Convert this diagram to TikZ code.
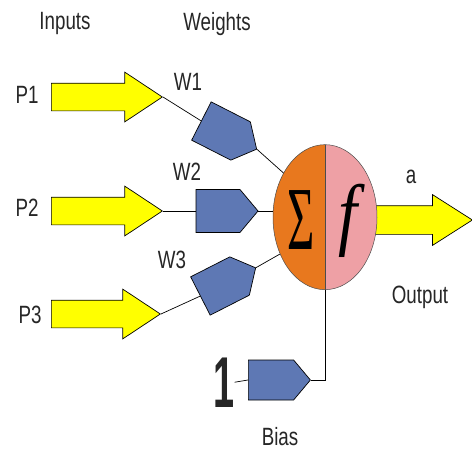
\documentclass[tikz,border=0pt]{standalone}
\usepackage{fontspec}
\setmainfont{Liberation Sans}
\newfontfamily\greekfont{Liberation Serif}
\usetikzlibrary{shapes.arrows,shapes.symbols,shapes.geometric}
\definecolor{arrowyellow}{RGB}{255,255,0}
\definecolor{weightblue}{RGB}{94,120,180}
\definecolor{sumorange}{RGB}{232,120,30}
\definecolor{funcpink}{RGB}{238,160,165}

\begin{document}
\begin{tikzpicture}[x=1pt, y=-1pt, line width=0.7pt,
    lbl/.style={font=\fontsize{25}{30}\selectfont, text=black!85, xscale=0.75, inner sep=0pt, anchor=base},
    inarrow/.style={single arrow, draw=black, fill=arrowyellow, minimum height=111pt, minimum width=49pt,
      single arrow head extend=11pt, single arrow tip angle=67, inner xsep=0pt, inner ysep=13.5pt, anchor=tail},
    weight/.style={signal, signal to=east, signal pointer angle=100, draw=black, fill=weightblue,
      minimum width=62pt, minimum height=43pt, inner sep=0pt}]
  \useasboundingbox (0,0) rectangle (472,450);

  % Titulos
  \node[lbl] (inputs) at (65,29) {Inputs};
  \node[lbl] (weights) at (217,30) {Weights};

  % Entradas
  \node[inarrow] (p1arrow) at (51,97) {};
  \node[inarrow] (p2arrow) at (51,211) {};
  \node[inarrow, minimum height=109pt] (p3arrow) at (51,314) {};
  \node[lbl] (p1) at (27,103) {P1};
  \node[lbl] (p2) at (27,216) {P2};
  \node[lbl] (p3) at (30,323) {P3};

  % Pesos
  \node[weight, rotate=-27] (w1) at (221,131) {};
  \node[weight] (w2) at (218,211) {};
  \node[weight, rotate=27] (w3) at (220,286) {};
  \node[lbl] (w1lbl) at (188,90) {W1};
  \node[lbl] (w2lbl) at (187,180) {W2};
  \node[lbl] (w3lbl) at (172,268) {W3};

  % Salida
  \node[inarrow, minimum height=98pt, minimum width=50pt, single arrow tip angle=65, inner ysep=14pt] (outarrow) at (374,220) {};
  \node[lbl] (a) at (411,183) {a};
  \node[lbl] (output) at (420,303) {Output};

  % Neurona
  \node[ellipse, minimum width=104pt, minimum height=145pt, inner sep=0pt] (neuron) at (325,217.5) {};
  \fill[sumorange] (neuron.north) arc[start angle=90, end angle=270, x radius=52pt, y radius=72.5pt] -- cycle;
  \fill[funcpink] (neuron.north) arc[start angle=90, end angle=-90, x radius=52pt, y radius=72.5pt] -- cycle;
  \draw[black!70, line width=0.5pt] (neuron.north) arc[start angle=90, end angle=450, x radius=52pt, y radius=72.5pt];
  \draw[black!70, line width=0.5pt] (neuron.north) -- (neuron.south);
  \node[font=\greekfont\fontsize{90}{90}\selectfont, xscale=0.52, inner sep=0pt] (sigma) at (301,220) {Σ};
  \node[font=\greekfont\itshape\fontsize{80}{80}\selectfont, xscale=0.85, inner sep=0pt] (func) at (348,221) {f};

  % Bias
  \node[weight, minimum height=40pt] (wb) at (271,380) {};
  \node[lbl, font=\bfseries\fontsize{72}{72}\selectfont, xscale=0.7] (one) at (224,407) {1};
  \node[lbl] (bias) at (280,445) {Bias};

  % Conexiones
  \draw (p1arrow.tip) -- (w1.west);
  \draw (w1.east) -- (neuron.133);
  \draw (p2arrow.tip) -- (w2.west);
  \draw (w2.east) -- (w2.east -| neuron.west);
  \draw (p3arrow.tip) -- (w3.west);
  \draw (w3.east) -- (neuron.219);
  \draw (one.east) -- (wb.west);
  \draw (wb.east) -| (neuron.south);
\end{tikzpicture}
\end{document}
